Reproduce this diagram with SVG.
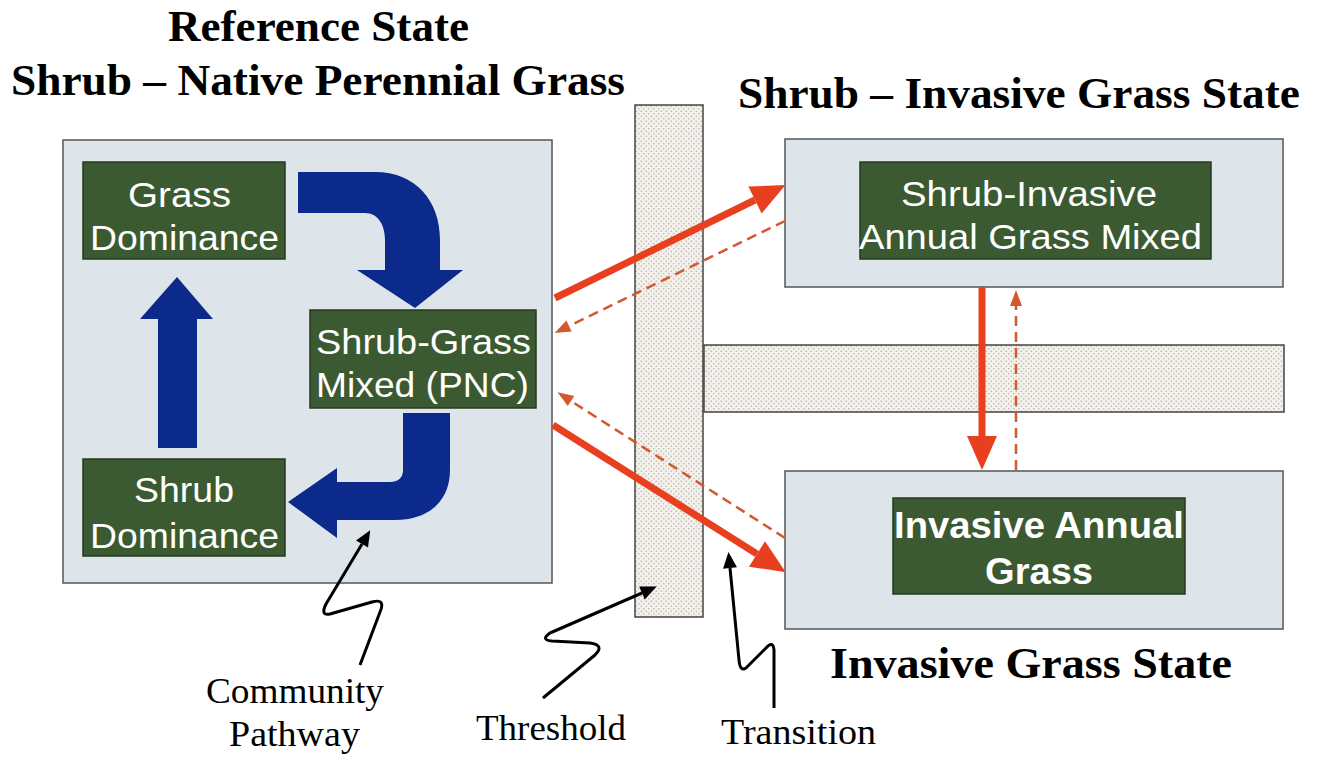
<svg xmlns="http://www.w3.org/2000/svg" width="1317" height="758" viewBox="0 0 1317 758">
<style>
.title{font-family:"Liberation Serif","Times New Roman",serif;font-weight:bold;font-size:44px;fill:#000}
.lbl{font-family:"Liberation Serif","Times New Roman",serif;font-size:35px;fill:#000}
.gt{font-family:"Liberation Sans",Arial,sans-serif;font-size:35px;fill:#fff}
.gtb{font-family:"Liberation Sans",Arial,sans-serif;font-size:36px;font-weight:bold;fill:#fff}
.state{fill:#dde5ea;stroke:#555;stroke-width:1.5}
.green{fill:#3b5a31;stroke:#263a1f;stroke-width:1.5}
.bar{fill:url(#dots);stroke:#444;stroke-width:1.5}
.blue{fill:#0b2a8c}
.solid{stroke:#e8401e;stroke-width:7;fill:none}
.dash{stroke:#d4582e;stroke-width:2.5;fill:none;stroke-dasharray:10 6}
.ptr{stroke:#000;stroke-width:3;fill:none;stroke-linejoin:round}
</style>
<defs>
<pattern id="dots" width="5" height="5" patternUnits="userSpaceOnUse">
<rect width="5" height="5" fill="#f4f0ec"/>
<circle cx="1.25" cy="1.25" r="0.75" fill="#b5aea6"/>
<circle cx="3.75" cy="3.75" r="0.75" fill="#b5aea6"/>
</pattern>
<marker id="bigHead" markerUnits="userSpaceOnUse" viewBox="0 0 34 30" refX="0" refY="15" markerWidth="34" markerHeight="30" orient="auto" overflow="visible">
<path d="M0,0 L34,15 L0,30 Z" fill="#e8401e"/>
</marker>
<marker id="smallHead" markerUnits="userSpaceOnUse" viewBox="0 0 16 12" refX="0" refY="6" markerWidth="16" markerHeight="12" orient="auto" overflow="visible">
<path d="M0,0 L16,6 L0,12 Z" fill="#d4582e"/>
</marker>
<marker id="blkHead" markerUnits="userSpaceOnUse" viewBox="0 0 16 14" refX="0" refY="7" markerWidth="16" markerHeight="14" orient="auto" overflow="visible">
<path d="M0,0 L16,7 L0,14 Z" fill="#000"/>
</marker>
</defs>
<rect width="1317" height="758" fill="#fff"/>

<g id="titles">
<text class="title" x="168" y="41" textLength="301" lengthAdjust="spacingAndGlyphs">Reference State</text>
<text class="title" x="11" y="95" textLength="614" lengthAdjust="spacingAndGlyphs">Shrub – Native Perennial Grass</text>
<text class="title" x="738" y="108" textLength="562" lengthAdjust="spacingAndGlyphs">Shrub – Invasive Grass State</text>
<text class="title" x="830" y="678" textLength="402" lengthAdjust="spacingAndGlyphs">Invasive Grass State</text>
</g>

<g id="threshold-bars">
<rect class="bar" x="635" y="105" width="68" height="512"/>
<rect class="bar" x="704" y="345" width="580" height="67"/>
</g>

<g id="reference-state">
<rect class="state" x="63" y="140" width="489" height="443"/>
</g>
<g id="shrub-invasive-state">
<rect class="state" x="785" y="139" width="498" height="148"/>
</g>
<g id="invasive-grass-state">
<rect class="state" x="785" y="471" width="498" height="158"/>
</g>

<g id="grass-dominance">
<rect class="green" x="83" y="162" width="202" height="97"/>
<text class="gt" x="128" y="207" textLength="103" lengthAdjust="spacingAndGlyphs">Grass</text>
<text class="gt" x="90" y="250" textLength="189" lengthAdjust="spacingAndGlyphs">Dominance</text>
</g>
<g id="shrub-grass-mixed">
<rect class="green" x="310" y="310" width="226" height="98"/>
<text class="gt" x="316" y="354" textLength="215" lengthAdjust="spacingAndGlyphs">Shrub-Grass</text>
<text class="gt" x="316" y="397" textLength="213" lengthAdjust="spacingAndGlyphs">Mixed (PNC)</text>
</g>
<g id="shrub-dominance">
<rect class="green" x="83" y="459" width="202" height="97"/>
<text class="gt" x="134" y="502" textLength="100" lengthAdjust="spacingAndGlyphs">Shrub</text>
<text class="gt" x="90" y="548" textLength="189" lengthAdjust="spacingAndGlyphs">Dominance</text>
</g>
<g id="shrub-invasive-mixed">
<rect class="green" x="860" y="162" width="351" height="97"/>
<text class="gt" x="901" y="206" textLength="256" lengthAdjust="spacingAndGlyphs">Shrub-Invasive</text>
<text class="gt" x="859" y="249" textLength="343" lengthAdjust="spacingAndGlyphs">Annual Grass Mixed</text>
</g>
<g id="invasive-annual-grass">
<rect class="green" x="893" y="498" width="292" height="96"/>
<text class="gtb" x="894" y="538" textLength="290" lengthAdjust="spacingAndGlyphs">Invasive Annual</text>
<text class="gtb" x="985" y="584" textLength="108" lengthAdjust="spacingAndGlyphs">Grass</text>
</g>

<g id="connectors">
<path class="blue" d="M298,172 L375,172 C415,172 440,200 440,240 L440,270 L463,270 L415,308 L357,270 L385,270 L385,240 C385,225 378,213 365,213 L298,213 Z"/>
<path class="blue" d="M158,448 L197,448 L197,319 L213,319 L177,277 L140,319 L158,319 Z"/>
<path class="blue" d="M403,413 L450,413 L450,470 C450,500 430,520 395,520 L337,520 L337,538 L288,502 L337,468 L337,482 L390,482 C398,482 403,478 403,470 Z"/>

<path class="solid" d="M555,298 L755,200" marker-end="url(#bigHead)"/>
<path class="solid" d="M553,425 L757,554" marker-end="url(#bigHead)"/>
<path class="solid" d="M982,287 L982,436" marker-end="url(#bigHead)"/>
<path class="dash" d="M785,221 L569,326" marker-end="url(#smallHead)"/>
<path class="dash" d="M785,538 L571,401" marker-end="url(#smallHead)"/>
<path class="dash" d="M1016,470 L1016,306" marker-end="url(#smallHead)"/>

<path class="ptr" d="M360,665 L380,612 Q386,598 372,602 L330,614 Q320,616 326,604 L362,544" marker-end="url(#blkHead)"/>
<path class="ptr" d="M543,698 L595,655 Q605,645 590,643 L552,641 Q540,640 550,633 L642,593" marker-end="url(#blkHead)"/>
<path class="ptr" d="M774,708 L774,650 Q773,640 766,648 L746,668 Q740,672 739,660 L730,568" marker-end="url(#blkHead)"/>
</g>

<g id="labels">
<text class="lbl" x="206" y="703" textLength="178" lengthAdjust="spacingAndGlyphs">Community</text>
<text class="lbl" x="229" y="746" textLength="131" lengthAdjust="spacingAndGlyphs">Pathway</text>
<text class="lbl" x="476" y="740" textLength="150" lengthAdjust="spacingAndGlyphs">Threshold</text>
<text class="lbl" x="721" y="744" textLength="155" lengthAdjust="spacingAndGlyphs">Transition</text>
</g>
</svg>
